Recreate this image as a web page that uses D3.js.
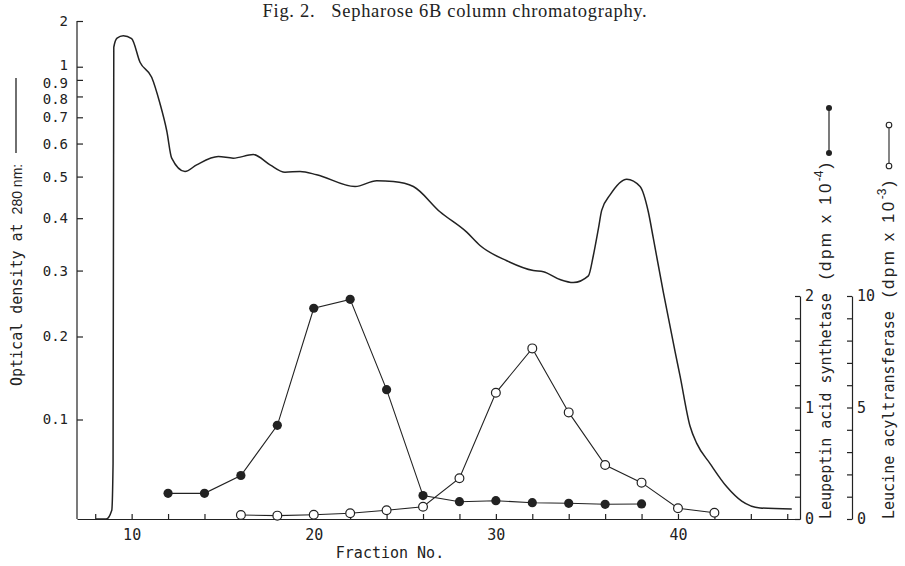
<!DOCTYPE html>
<html>
<head>
<meta charset="utf-8">
<script src="https://cdn.jsdelivr.net/npm/d3@7"></script>
<style>
  body { margin: 0; background: #fff; }
  text { fill: #222; }
</style>
</head>
<body>
<script>
// ---- data ----
const odFraction = [8.04, 8.6, 8.91, 8.98, 9.02, 9.2, 9.54, 10.0, 10.46, 11.10,
  11.56, 11.93, 12.20, 12.93, 13.57, 14.76, 15.58, 16.68, 17.60, 18.42,
  19.25, 20.16, 22.27, 23.46, 24.37, 25.47, 26.93, 28.40, 29.13, 30.60,
  32.06, 32.61, 33.52, 34.25, 35.08, 35.35, 35.63, 35.81, 36.27, 37.19,
  37.92, 38.37, 38.65, 39.20, 39.84, 40.11, 40.66, 41.03, 41.76, 42.68,
  43.50, 44.51, 46.25];
const od = [0, 0.004, 0.012, 0.055, 1.21, 1.36, 1.41, 1.35, 1.04, 0.918,
  0.762, 0.645, 0.553, 0.514, 0.533, 0.558, 0.553, 0.564, 0.533, 0.512,
  0.514, 0.505, 0.474, 0.489, 0.487, 0.474, 0.414, 0.371, 0.345, 0.317,
  0.300, 0.298, 0.285, 0.280, 0.291, 0.326, 0.378, 0.417, 0.453, 0.493,
  0.474, 0.414, 0.358, 0.264, 0.180, 0.150, 0.093, 0.075, 0.055, 0.033,
  0.02, 0.014, 0.013];

const leuFraction = [12, 14, 16, 18, 20, 22, 24, 26, 28, 30, 32, 34, 36, 38];
const leupeptin = [0.23, 0.23, 0.39, 0.84, 1.89, 1.97, 1.16, 0.21, 0.155, 0.164, 0.146, 0.141, 0.132, 0.135];

const acylFraction = [16, 18, 20, 22, 24, 26, 28, 30, 32, 34, 36, 38, 40, 42];
const acyltransferase = [0.18, 0.15, 0.19, 0.26, 0.39, 0.55, 1.83, 5.66, 7.65, 4.78, 2.42, 1.63, 0.48, 0.28];

const odTicks = [0.1, 0.2, 0.3, 0.4, 0.5, 0.6, 0.7, 0.8, 0.9, 1, 2];
const fractionTicks = [8, 10, 12, 14, 16, 18, 20, 22, 24, 26, 28, 30, 32, 34, 36, 38, 40, 42, 44, 46];
const fractionLabels = [10, 20, 30, 40];
const leuTicks = [0, 0.2, 0.4, 0.6, 0.8, 1, 1.2, 1.4, 1.6, 1.8, 2];
const acylTicks = [0, 1, 2, 3, 4, 5, 6, 7, 8, 9, 10];

// ---- layout ----
const width = 905, height = 566;
const plot = { left: 77, right: 800, top: 21, bottom: 519 };
const rightTop = 296;
const acylAxisX = 852;
const mono = "'DejaVu Sans Mono', monospace";
const sans = "'Liberation Sans', Arial, sans-serif";
const ink = "#222";
// the crowded labels near the top of the OD axis sit a little apart in the original
const odLabelNudge = { 1: -2, 0.9: 3, 0.8: 3 };

const svg = d3.select("body").append("svg")
  .attr("width", width)
  .attr("height", height)
  .attr("viewBox", [0, 0, width, height]);

const x = d3.scaleLinear().domain([7, 46.7]).range([plot.left, plot.right]);
// optical density is plotted on a linear transmittance scale (T = 10^-OD)
const tScale = d3.scaleLinear().domain([1, 0.01]).range([plot.bottom + 5, plot.top]);
const y = v => Math.min(plot.bottom, tScale(Math.pow(10, -v)));
const yLeu = d3.scaleLinear().domain([0, 2]).range([plot.bottom, rightTop]);
const yAcyl = d3.scaleLinear().domain([0, 10]).range([plot.bottom, rightTop]);

const styleAxis = (g, size = 15) => {
  g.selectAll("path, line").attr("stroke", ink).attr("stroke-width", 1.2);
  g.selectAll("text").attr("fill", ink).attr("font-family", mono).attr("font-size", size);
};

// left axis
svg.append("g")
  .attr("transform", `translate(${plot.left},0)`)
  .call(d3.axisLeft(tScale)
    .tickValues(odTicks.map(v => Math.pow(10, -v)))
    .tickFormat((d, i) => odTicks[i])
    .tickSize(-6).tickSizeOuter(0).tickPadding(9))
  .call(g => styleAxis(g, 14))
  .call(g => g.select(".domain").attr("d", `M0,${plot.bottom}V${plot.top}`))
  .call(g => g.selectAll(".tick text")
    .attr("y", (d, i) => odLabelNudge[odTicks[i]] || 0));

// bottom axis
svg.append("g")
  .attr("transform", `translate(0,${plot.bottom})`)
  .call(d3.axisBottom(x)
    .tickValues(fractionTicks)
    .tickFormat(d => fractionLabels.includes(d) ? d : "")
    .tickSize(-5).tickSizeOuter(0).tickPadding(10))
  .call(styleAxis);

// right axes
svg.append("g")
  .attr("transform", `translate(${plot.right},0)`)
  .call(d3.axisRight(yLeu)
    .tickValues(leuTicks)
    .tickFormat(d => Number.isInteger(d) ? d : "")
    .tickSize(-5).tickSizeOuter(0).tickPadding(5))
  .call(styleAxis);

svg.append("g")
  .attr("transform", `translate(${acylAxisX},0)`)
  .call(d3.axisRight(yAcyl)
    .tickValues(acylTicks)
    .tickFormat(d => d % 5 === 0 ? d : "")
    .tickSize(-5).tickSizeOuter(0).tickPadding(5))
  .call(styleAxis);

// OD curve
const odData = odFraction.map((f, i) => [f, od[i]]);
svg.append("path")
  .datum(odData)
  .attr("fill", "none")
  .attr("stroke", ink)
  .attr("stroke-width", 1.5)
  .attr("d", d3.line().x(d => x(d[0])).y(d => y(d[1])).curve(d3.curveMonotoneX));

// leupeptin acid synthetase (filled)
const leuData = leuFraction.map((f, i) => [f, leupeptin[i]]);
svg.append("path")
  .datum(leuData)
  .attr("fill", "none")
  .attr("stroke", ink)
  .attr("stroke-width", 1.1)
  .attr("d", d3.line().x(d => x(d[0])).y(d => yLeu(d[1])));
svg.append("g").selectAll("circle")
  .data(leuData).join("circle")
  .attr("cx", d => x(d[0]))
  .attr("cy", d => yLeu(d[1]))
  .attr("r", 4.6)
  .attr("fill", ink);

// leucine acyltransferase (open)
const acylData = acylFraction.map((f, i) => [f, acyltransferase[i]]);
svg.append("path")
  .datum(acylData)
  .attr("fill", "none")
  .attr("stroke", ink)
  .attr("stroke-width", 1.1)
  .attr("d", d3.line().x(d => x(d[0])).y(d => yAcyl(d[1])));
svg.append("g").selectAll("circle")
  .data(acylData).join("circle")
  .attr("cx", d => x(d[0]))
  .attr("cy", d => yAcyl(d[1]))
  .attr("r", 4.4)
  .attr("fill", "#fff")
  .attr("stroke", ink)
  .attr("stroke-width", 1.2);

// title
const title = svg.append("text")
  .attr("x", 455).attr("y", 17)
  .attr("text-anchor", "middle")
  .attr("font-family", "'Liberation Serif', 'Times New Roman', serif")
  .attr("font-size", 18.5)
  .attr("letter-spacing", 0.7);
title.append("tspan").text("Fig. 2.");
title.append("tspan").attr("dx", 16).text("Sepharose 6B column chromatography.");

// x label
svg.append("text")
  .attr("x", 390).attr("y", 558)
  .attr("text-anchor", "middle")
  .attr("font-family", mono).attr("font-size", 15)
  .text("Fraction No.");

// y label with line key
const yl = svg.append("text")
  .attr("transform", "translate(22,386) rotate(-90)")
  .attr("font-family", mono).attr("font-size", 15);
yl.append("tspan").text("Optical density at ");
yl.append("tspan").attr("font-family", sans).attr("font-size", 14).text("280 nm:");
svg.append("line")
  .attr("x1", 16).attr("x2", 16)
  .attr("y1", 153).attr("y2", 78)
  .attr("stroke", ink).attr("stroke-width", 1.3);

// right labels
function rightLabel(xPos, main, exp) {
  const t = svg.append("text")
    .attr("transform", `translate(${xPos},${plot.bottom}) rotate(-90)`)
    .attr("font-family", mono).attr("font-size", 15);
  t.append("tspan").text(main);
  t.append("tspan").attr("dx", 14).attr("font-family", sans).attr("font-size", 17)
    .attr("letter-spacing", 2.5).text("(dpm x 10");
  t.append("tspan").attr("dy", -8).attr("font-family", sans).attr("font-size", 12).text(exp);
  t.append("tspan").attr("dx", 2).attr("dy", 8).attr("font-family", sans).attr("font-size", 17).text(")");
}
rightLabel(831, "Leupeptin acid synthetase", "-4");
rightLabel(894, "Leucine acyltransferase", "-3");

// keys
const leuKey = [153, 108];
svg.append("line").attr("x1", 829).attr("x2", 829)
  .attr("y1", leuKey[0]).attr("y2", leuKey[1])
  .attr("stroke", ink).attr("stroke-width", 1.2);
svg.selectAll(".leuKey").data(leuKey).join("circle")
  .attr("cx", 829).attr("cy", d => d).attr("r", 3).attr("fill", ink);

const acylKey = [166, 125];
svg.append("line").attr("x1", 889).attr("x2", 889)
  .attr("y1", acylKey[0]).attr("y2", acylKey[1])
  .attr("stroke", ink).attr("stroke-width", 1.1);
svg.selectAll(".acylKey").data(acylKey).join("circle")
  .attr("cx", 889).attr("cy", d => d).attr("r", 2.8)
  .attr("fill", "#fff").attr("stroke", ink).attr("stroke-width", 1.1);
</script>
</body>
</html>
